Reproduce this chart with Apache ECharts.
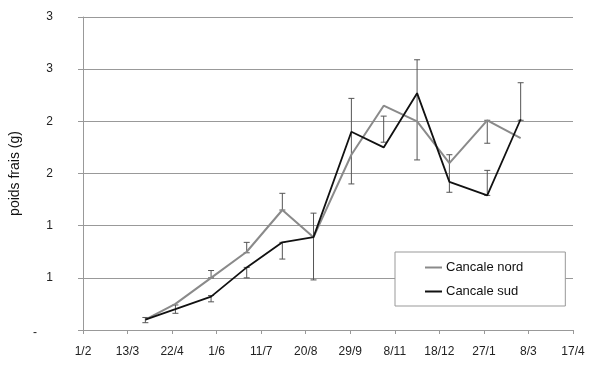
<!DOCTYPE html>
<html>
<head>
<meta charset="utf-8">
<script src="https://cdn.jsdelivr.net/npm/echarts@6/dist/echarts.min.js"></script>
<style>html,body{margin:0;padding:0;background:#fff}#c{width:600px;height:365px}</style>
</head>
<body>
<div id="c"></div>
<script>
// ---- data ----
const baseDate = '2001-02-01';
const dates = ['2001-03-29','2001-04-25','2001-05-27','2001-06-28','2001-07-30','2001-08-27','2001-09-30','2001-10-29','2001-11-28','2001-12-27','2002-01-30','2002-03-01'];
const nord = [0.10, 0.25, 0.50, 0.75, 1.15, 0.89, 1.68, 2.15, 2.00, 1.60, 2.01, 1.84];
const sud  = [0.10, 0.20, 0.32, 0.60, 0.84, 0.89, 1.90, 1.75, 2.27, 1.42, 1.29, 2.02];
const errDates = ['2001-03-29','2001-04-25','2001-05-27','2001-05-27','2001-06-28','2001-06-28','2001-07-30','2001-07-30','2001-08-27','2001-09-30','2001-10-29','2001-11-28','2001-12-27','2002-01-30','2002-01-30','2002-03-01'];
const errLow  = [0.07, 0.16, 0.50, 0.27, 0.74, 0.50, 1.15, 0.68, 0.48, 1.40, 1.80, 1.63, 1.32, 1.79, 1.29, 2.01];
const errHigh = [0.12, 0.24, 0.57, 0.33, 0.84, 0.60, 1.31, 0.84, 1.12, 2.22, 2.05, 2.59, 1.68, 2.01, 1.53, 2.37];
const seriesNames = ['Cancale nord', 'Cancale sud'];

// ---- helpers ----
const DAY = 86400000;
function parse(s){ const p = s.split('-').map(Number); return Date.UTC(p[0], p[1]-1, p[2]); }
const base = parse(baseDate);
function dayOf(s){ return Math.round((parse(s) - base) / DAY); }
function fmtDay(v){ const d = new Date(base + v * DAY); return d.getUTCDate() + '/' + (d.getUTCMonth() + 1); }

const nordData = dates.map((d, i) => [dayOf(d), nord[i]]);
const sudData = dates.map((d, i) => [dayOf(d), sud[i]]);
const errData = errDates.map((d, i) => [dayOf(d), errLow[i], errHigh[i]]);

const font = 'Liberation Sans, Arial, sans-serif';
const chart = echarts.init(document.getElementById('c'), null, {renderer: 'canvas'});
chart.setOption({
  animation: false,
  backgroundColor: '#fff',
  grid: {left: 83, right: 27, top: 17, bottom: 35},
  legend: {
    orient: 'vertical',
    left: 395, top: 252,
    backgroundColor: '#fff',
    borderColor: '#999', borderWidth: 1,
    padding: [9, 42, 8, 30],
    itemGap: 11,
    icon: 'rect',
    itemWidth: 17, itemHeight: 2,
    data: [
      {name: seriesNames[0], itemStyle: {color: '#8a8a8a'}},
      {name: seriesNames[1], itemStyle: {color: '#111'}}
    ],
    textStyle: {fontFamily: font, fontSize: 13, color: '#111', padding: [0, 0, 0, -1]}
  },
  xAxis: {
    type: 'value', min: 0, max: 440, interval: 40,
    axisLine: {show: true, lineStyle: {color: '#999', width: 1}},
    axisTick: {show: true, length: 4, lineStyle: {color: '#999'}},
    splitLine: {show: false},
    axisLabel: {formatter: fmtDay, fontFamily: font, fontSize: 12, color: '#222', margin: 16}
  },
  yAxis: {
    type: 'value', min: 0, max: 3, interval: 0.5,
    name: 'poids frais (g)', nameLocation: 'middle', nameGap: 61, nameRotate: 90,
    nameTextStyle: {fontFamily: font, fontSize: 14, color: '#111'},
    axisLine: {show: true, lineStyle: {color: '#999', width: 1}},
    axisTick: {show: true, length: 5, lineStyle: {color: '#999'}},
    splitLine: {show: true, lineStyle: {color: '#999', width: 1}},
    axisLabel: {
      fontFamily: font, fontSize: 12, color: '#222', margin: 30,
      formatter: v => v === 0 ? '{d|-}' : String(Math.round(v)),
      rich: {d: {fontFamily: font, fontSize: 12, color: '#222', padding: [6, 16, 0, 0]}}
    }
  },
  series: [
    {
      type: 'custom', name: 'err', z: 1, silent: true,
      data: errData,
      renderItem: function (params, api) {
        const x = api.value(0), lo = api.value(1), hi = api.value(2);
        const p1 = api.coord([x, hi]), p2 = api.coord([x, lo]);
        const w = 3, st = {stroke: '#555', lineWidth: 1};
        return {type: 'group', children: [
          {type: 'line', shape: {x1: p1[0], y1: p1[1], x2: p2[0], y2: p2[1]}, style: st},
          {type: 'line', shape: {x1: p1[0]-w, y1: p1[1], x2: p1[0]+w, y2: p1[1]}, style: st},
          {type: 'line', shape: {x1: p2[0]-w, y1: p2[1], x2: p2[0]+w, y2: p2[1]}, style: st}
        ]};
      }
    },
    {
      type: 'line', name: seriesNames[0], z: 3, data: nordData,
      symbol: 'none', showSymbol: false,
      lineStyle: {color: '#8a8a8a', width: 2},
      itemStyle: {color: '#8a8a8a'}
    },
    {
      type: 'line', name: seriesNames[1], z: 4, data: sudData,
      symbol: 'none', showSymbol: false,
      lineStyle: {color: '#111', width: 1.8},
      itemStyle: {color: '#111'}
    }
  ]
});
</script>
</body>
</html>
